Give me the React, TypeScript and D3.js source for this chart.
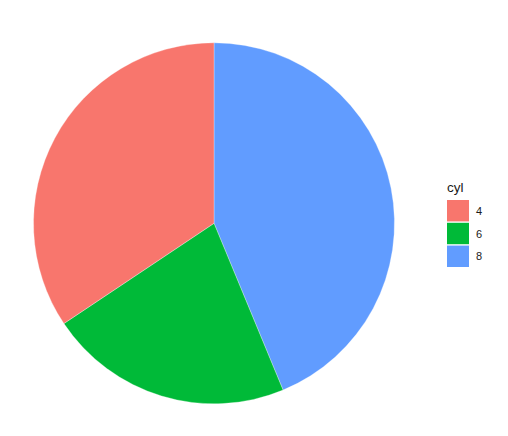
import React from "react";
import * as d3 from "d3";

const categories = ["4", "6", "8"];
const counts = [11, 7, 14];
const colors = ["#F8766D", "#00BA38", "#619CFF"];

export default function App() {
  const W = 508, H = 436;
  const cx = 214, cy = 223.3, r = 180.5;
  const data = categories.map((c, i) => ({ c, v: counts[i], col: colors[i] }));
  // ggplot stacking: last category first clockwise from top
  const total = d3.sum(counts);
  const ang = d3.scaleLinear().domain([0, total]).range([0, 2 * Math.PI]);
  const arc = d3.arc<any>().innerRadius(0).outerRadius(r);
  let acc = 0;
  const slices = [...data].reverse().map((d) => {
    const s = { ...d, startAngle: ang(acc), endAngle: ang(acc + d.v) };
    acc += d.v;
    return s;
  });
  const keyY = d3.scaleBand().domain(categories).range([200, 267]).paddingInner(0.06);
  return (
    <svg width={W} height={H} style={{ position: "absolute", left: 0, top: 0 }}>
      <rect width={W} height={H} fill="white" />
      <g transform={`translate(${cx},${cy})`}>
        {slices.map((s) => (
          <path key={s.c} d={arc(s as any) as string} fill={s.col} stroke="white" strokeWidth={0.3} />
        ))}
      </g>
      <text x={447} y={192} fontFamily="Liberation Sans, Arial, sans-serif" fontSize={13.5} fill="#1a1a1a">cyl</text>
      {categories.map((c, i) => (
        <g key={c}>
          <rect x={447} y={keyY(c)} width={22} height={keyY.bandwidth()} fill={colors[i]} />
          <text x={476} y={(keyY(c) as number) + keyY.bandwidth() / 2 + 4} fontFamily="Liberation Sans, Arial, sans-serif" fontSize={11} fill="#1a1a1a">{c}</text>
        </g>
      ))}
    </svg>
  );
}
